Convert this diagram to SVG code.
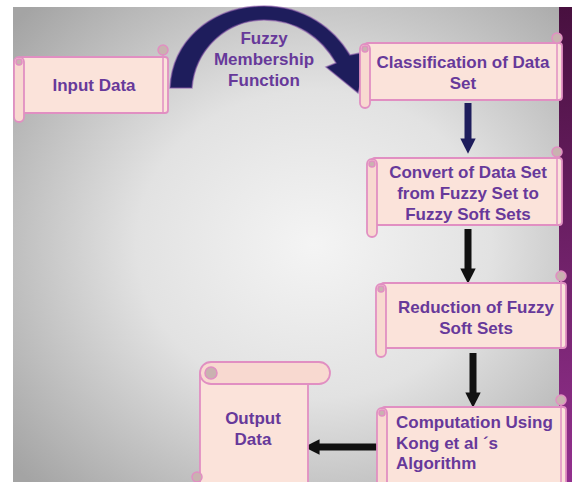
<svg xmlns="http://www.w3.org/2000/svg" width="572" height="482" viewBox="0 0 572 482">
  <defs>
    <radialGradient id="bg" cx="0.55" cy="0.5" r="0.72">
      <stop offset="0" stop-color="#f4f4f4"/>
      <stop offset="0.45" stop-color="#e2e2e2"/>
      <stop offset="1" stop-color="#a4a4a4"/>
    </radialGradient>
    <linearGradient id="strip" x1="0" y1="0" x2="0" y2="1">
      <stop offset="0" stop-color="#48103f"/>
      <stop offset="1" stop-color="#93308e"/>
    </linearGradient>
    <marker id="ahNavy" viewBox="0 0 10 10" refX="1" refY="5" markerWidth="2.2" markerHeight="2.2" orient="auto" markerUnits="strokeWidth">
      <path d="M0 0 L10 5 L0 10 Z" fill="#1e1d5c"/>
    </marker>
    <marker id="ahBlack" viewBox="0 0 10 10" refX="1" refY="5" markerWidth="2.2" markerHeight="2.2" orient="auto" markerUnits="strokeWidth">
      <path d="M0 0 L10 5 L0 10 Z" fill="#111"/>
    </marker>
  </defs>
  <style>
    .body { fill: #fbe3da; stroke: #e18fc2; stroke-width: 1.8; }
    .roll { fill: #f8d9d0; stroke: #e18fc2; stroke-width: 1.8; }
    .curl { fill: #c9b2b0; stroke: #e18fc2; stroke-width: 1.5; }
    .edge { stroke: #e18fc2; stroke-width: 1.5; }
    .lbl { font-family: "Liberation Sans", Arial, sans-serif; font-weight: bold; font-size: 17px; fill: #67399a; text-anchor: middle; }
    .left { text-anchor: start; }
    .conn { fill: none; stroke-width: 7; }
  </style>

  <rect x="0" y="0" width="572" height="482" fill="#ffffff"/>
  <rect x="13" y="7" width="547" height="475" fill="url(#bg)"/>
  <rect x="559" y="7" width="13" height="475" fill="url(#strip)"/>

  <g id="connectors">
    <path id="curved-arrow" d="M 170 88 C 172 40 212 6 264 6 C 304 6 334 28 350 55 L 370 51 L 358 93 L 326 67 L 336 63 C 321 37 296 20 264 20 C 226 20 195 50 192 88 Z" fill="#1e1d5c" stroke="#8a5aaa" stroke-opacity="0.6" stroke-width="1.5"/>
    <line class="conn" x1="468" y1="103" x2="468" y2="140" stroke="#1e1d5c" marker-end="url(#ahNavy)"/>
    <line class="conn" x1="468" y1="229" x2="468" y2="270" stroke="#111" marker-end="url(#ahBlack)"/>
    <line class="conn" x1="473" y1="353" x2="473" y2="394" stroke="#111" marker-end="url(#ahBlack)"/>
    <line class="conn" x1="378" y1="447" x2="318" y2="447" stroke="#111" marker-end="url(#ahBlack)"/>
  </g>

  <text class="lbl" x="264" y="44">Fuzzy</text>
  <text class="lbl" x="264" y="65">Membership</text>
  <text class="lbl" x="264" y="86">Function</text>

  <g id="input-data">
    <rect class="body" x="20" y="57" width="148" height="56" rx="3"/>
    <line class="edge" x1="163" y1="50" x2="163" y2="113"/>
    <circle class="curl" cx="163" cy="50" r="5"/>
    <rect class="roll" x="14" y="57" width="10" height="65" rx="5"/>
    <circle class="curl" cx="19" cy="62" r="3"/>
    <text class="lbl" x="94" y="91">Input Data</text>
  </g>

  <g id="classification">
    <rect class="body" x="365" y="43" width="197" height="57" rx="3"/>
    <line class="edge" x1="557" y1="38" x2="557" y2="100"/>
    <circle class="curl" cx="557" cy="38" r="5"/>
    <rect class="roll" x="360" y="44" width="10" height="64" rx="5"/>
    <circle class="curl" cx="365" cy="49" r="3"/>
    <text class="lbl" x="463" y="68">Classification of Data</text>
    <text class="lbl" x="463" y="89">Set</text>
  </g>

  <g id="convert">
    <rect class="body" x="372" y="158" width="190" height="67" rx="3"/>
    <line class="edge" x1="557" y1="152" x2="557" y2="225"/>
    <circle class="curl" cx="557" cy="152" r="5"/>
    <rect class="roll" x="367" y="159" width="10" height="78" rx="5"/>
    <circle class="curl" cx="372" cy="164" r="3"/>
    <text class="lbl" x="468" y="178">Convert of Data Set</text>
    <text class="lbl" x="468" y="199">from Fuzzy Set to</text>
    <text class="lbl" x="468" y="220">Fuzzy Soft Sets</text>
  </g>

  <g id="reduction">
    <rect class="body" x="381" y="283" width="185" height="65" rx="3"/>
    <line class="edge" x1="561" y1="276" x2="561" y2="348"/>
    <circle class="curl" cx="561" cy="276" r="5"/>
    <rect class="roll" x="376" y="284" width="10" height="73" rx="5"/>
    <circle class="curl" cx="381" cy="289" r="3"/>
    <text class="lbl" x="476" y="313">Reduction of Fuzzy</text>
    <text class="lbl" x="476" y="334">Soft Sets</text>
  </g>

  <g id="computation">
    <rect class="body" x="382" y="407" width="184" height="80" rx="3"/>
    <line class="edge" x1="561" y1="400" x2="561" y2="487"/>
    <circle class="curl" cx="561" cy="400" r="5"/>
    <rect class="roll" x="377" y="408" width="10" height="80" rx="5"/>
    <circle class="curl" cx="382" cy="413" r="3"/>
    <text class="lbl left" x="396" y="428">Computation Using</text>
    <text class="lbl left" x="396" y="449">Kong et al ´s</text>
    <text class="lbl left" x="396" y="469">Algorithm</text>
  </g>

  <g id="output-data">
    <rect class="body" x="200" y="372" width="108" height="118" rx="3"/>
    <rect class="roll" x="200" y="362" width="130" height="22" rx="11"/>
    <circle class="curl" cx="211" cy="373" r="6"/>
    <circle class="curl" cx="197" cy="477" r="5"/>
    <text class="lbl" x="253" y="424">Output</text>
    <text class="lbl" x="253" y="445">Data</text>
  </g>
</svg>
